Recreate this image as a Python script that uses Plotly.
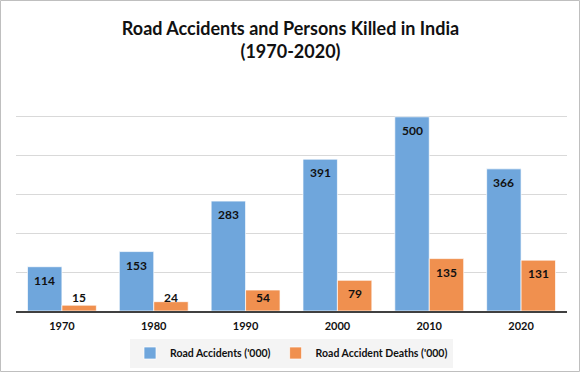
import plotly.graph_objects as go

years = ["1970", "1980", "1990", "2000", "2010", "2020"]
accidents = [114, 153, 283, 391, 500, 366]
deaths = [15, 24, 54, 79, 135, 131]
series_names = ["Road Accidents ('000)", "Road Accident Deaths ('000)"]
y_ticks = [0, 100, 200, 300, 400, 500, 600]

W, H = 581, 373
ML, MR, MT, MB = 16, 14, 78, 62
PW, PH = W - ML - MR, H - MT - MB

blue = "#6FA6DC"
orange = "#F0904F"
font = "Lato"

fig = go.Figure()
fig.add_bar(x=years, y=accidents, name=series_names[0], marker=dict(color=blue, line=dict(color="rgba(255,255,255,0.7)", width=1)))
fig.add_bar(x=years, y=deaths, name=series_names[1], marker=dict(color=orange, line=dict(color="rgba(255,255,255,0.7)", width=1)))

# data labels (inside end; pushed up for short bars, like the original)
bar_px = PW / len(years) * 0.75 / 2
for vals, shift in ((accidents, -bar_px / 2), (deaths, bar_px / 2)):
    for i, v in enumerate(vals):
        fig.add_annotation(x=i, y=max(v - 35, 34), text=str(v), showarrow=False,
                           xshift=shift, yanchor="middle",
                           font=dict(family=font, size=12, color="#111111", weight="bold"))

# chart border
fig.add_shape(type="rect", xref="paper", yref="paper",
              x0=-(ML - 0.5) / PW, x1=1 + (MR - 1.5) / PW,
              y0=-(MB - 1.5) / PH, y1=1 + (MT - 0.5) / PH,
              line=dict(color="#bfbfbf", width=1), layer="above")

fig.update_layout(
    width=W, height=H,
    margin=dict(l=ML, r=MR, t=MT, b=MB, autoexpand=False),
    paper_bgcolor="white", plot_bgcolor="white",
    barmode="group", bargap=0.25, bargroupgap=0,
    title=dict(text="Road Accidents and Persons Killed in India<br>(1970-2020)",
               x=0.5, xanchor="center", y=1 - 34.5 / H, yanchor="middle",
               font=dict(family=font, size=18, color="#111111", weight="bold")),
    font=dict(family=font, color="#111111"),
    showlegend=True,
    legend=dict(orientation="h", x=0.5, xanchor="center", yref="container", y=1 - 353 / H, yanchor="middle",
                bgcolor="#f4f4f4", font=dict(family=font, size=10.5, color="#111111", weight="bold"),
                itemwidth=30, traceorder="normal"),
    xaxis=dict(type="category", range=[-0.5, len(years) - 0.5], showline=True, linecolor="#404040", linewidth=2,
               automargin=False, ticks="", ticklabelstandoff=4,
               tickfont=dict(family=font, size=11, color="#111111", weight="bold"),
               showgrid=False),
    yaxis=dict(range=[0, 600], tickvals=y_ticks, showticklabels=False, showgrid=True, automargin=False,
               gridcolor="#d9d9d9", gridwidth=1, zeroline=False, showline=False),
)

fig.write_html("out.html", config={"displayModeBar": False},
               post_script="document.body.style.margin='0px';")
